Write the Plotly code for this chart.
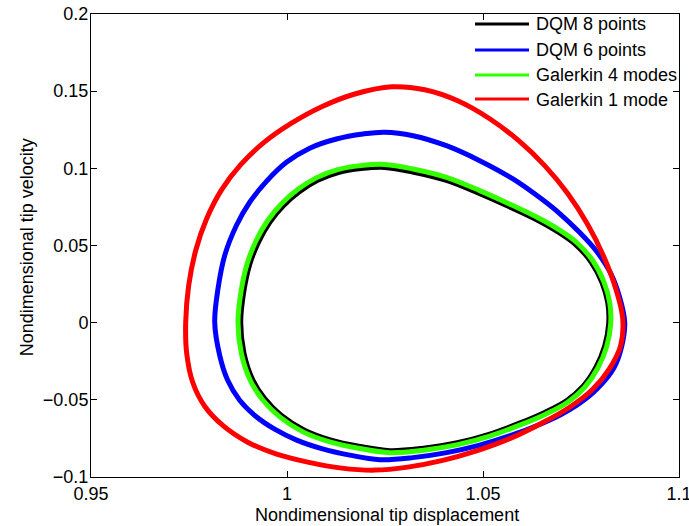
import plotly.graph_objects as go

# ---------------- data ----------------
dqm8_x = [0.98819, 0.98901, 0.99048, 0.99276, 0.99561, 0.99908, 1.00324, 1.00783, 1.01309, 1.01888,
          1.02492, 1.03204, 1.04048, 1.04890, 1.05737, 1.06367, 1.06901, 1.07355, 1.07758, 1.08033,
          1.08184, 1.08207, 1.08105, 1.07878, 1.07554, 1.07128, 1.06574, 1.05916, 1.05153, 1.04342,
          1.03480, 1.02620, 1.01862, 1.01102, 1.00434, 0.99849, 0.99431, 0.99128, 0.98901, 0.98819]
dqm8_v = [0.0002, 0.02070, 0.03771, 0.05239, 0.06507, 0.07581, 0.08499, 0.09224, 0.09728, 0.09981,
          0.10058, 0.09767, 0.09230, 0.08389, 0.07432, 0.06669, 0.05899, 0.05078, 0.03933, 0.02613,
          0.01281, -0.00045, -0.01514, -0.02904, -0.04114, -0.05058, -0.05815, -0.06527, -0.07232, -0.07781,
          -0.08131, -0.08292, -0.08021, -0.07594, -0.06947, -0.05990, -0.04916, -0.03713, -0.01960, 0.0002]

dqm6_x = [0.98156, 0.98240, 0.98411, 0.98709, 0.99048, 0.99482, 0.99985, 1.00579, 1.01260, 1.01939,
          1.02492, 1.03214, 1.04066, 1.04916, 1.05765, 1.06446, 1.06957, 1.07441, 1.07901, 1.08258,
          1.08487, 1.08615, 1.08538, 1.08334, 1.07926, 1.07467, 1.06957, 1.06395, 1.05732, 1.04916,
          1.04074, 1.03207, 1.02365, 1.01599, 1.00885, 1.00247, 0.99686, 0.99202, 0.98793, 0.98487,
          0.98283, 0.98156]
dqm6_v = [0.0002, 0.02199, 0.04353, 0.06294, 0.07801, 0.09172, 0.10388, 0.11307, 0.11902, 0.12225,
          0.12342, 0.12115, 0.11468, 0.10498, 0.09314, 0.08105, 0.07070, 0.05906, 0.04612, 0.03189,
          0.01636, 0.0002, -0.01533, -0.02956, -0.04250, -0.05220, -0.05996, -0.06643, -0.07290, -0.07937,
          -0.08422, -0.08745, -0.08875, -0.08583, -0.08163, -0.07613, -0.06902, -0.06061, -0.05026, -0.03732,
          -0.02115, 0.0002]

gal4_x = [0.98750, 0.98832, 0.98985, 0.99214, 0.99508, 0.99865, 1.00286, 1.00758, 1.01293, 1.01880,
          1.02492, 1.03214, 1.04066, 1.04916, 1.05765, 1.06395, 1.06931, 1.07390, 1.07798, 1.08079,
          1.08232, 1.08258, 1.08156, 1.07926, 1.07594, 1.07161, 1.06599, 1.05936, 1.05171, 1.04355,
          1.03487, 1.02620, 1.01855, 1.01089, 1.00408, 0.99814, 0.99388, 0.99074, 0.98837, 0.98750]
gal4_v = [0.0002, 0.02089, 0.03836, 0.05323, 0.06617, 0.07717, 0.08655, 0.09398, 0.09916, 0.10175,
          0.10252, 0.09961, 0.09418, 0.08558, 0.07587, 0.06811, 0.06035, 0.05194, 0.04030, 0.02671,
          0.01313, -0.00045, -0.01533, -0.02956, -0.04185, -0.05155, -0.05931, -0.06643, -0.07354, -0.07904,
          -0.08260, -0.08422, -0.08150, -0.07723, -0.07076, -0.06106, -0.05026, -0.03797, -0.02005, 0.0002]

gal1_x = [0.97416, 0.97492, 0.97671, 0.97952, 0.98334, 0.98819, 0.99406, 1.00094, 1.00885, 1.01753,
          1.02671, 1.03513, 1.04355, 1.05171, 1.05911, 1.06574, 1.07161, 1.07671, 1.08079, 1.08385,
          1.08564, 1.08513, 1.08232, 1.07798, 1.07212, 1.06497, 1.05681, 1.04814, 1.03946, 1.03079,
          1.02237, 1.01395, 1.00528, 0.99737, 0.98997, 0.98385, 0.97901, 0.97594, 0.97441, 0.97416]
gal1_v = [0.0002, 0.02413, 0.04677, 0.06747, 0.08622, 0.10239, 0.11663, 0.12891, 0.13991, 0.14832,
          0.15285, 0.15091, 0.14379, 0.13215, 0.11792, 0.10175, 0.08364, 0.06358, 0.04289, 0.02219,
          0.00278, -0.01468, -0.02956, -0.04314, -0.05479, -0.06514, -0.07516, -0.08325, -0.08939, -0.09360,
          -0.09554, -0.09424, -0.09036, -0.08519, -0.07743, -0.06708, -0.05414, -0.03862, -0.01986, 0.0002]

series_names = ["DQM 8 points", "DQM 6 points", "Galerkin 4 modes", "Galerkin 1 mode"]
series_colors = ["#000000", "#0000ff", "#33ff00", "#ff0000"]

x_ticks = [0.95, 1.0, 1.05, 1.1]
x_ticktext = ["0.95", "1", "1.05", "1.1"]
y_ticks = [-0.1, -0.05, 0.0, 0.05, 0.1, 0.15, 0.2]
y_ticktext = ["\u22120.1", "\u22120.05", "0", "0.05", "0.1", "0.15", "0.2"]

x_title = "Nondimensional tip displacement"
y_title = "Nondimensional tip velocity"

# ---------------- figure ----------------
FONT = "Liberation Sans, Arial, Helvetica, sans-serif"
FS = 18

fig = go.Figure()
curves = [(dqm8_x, dqm8_v), (dqm6_x, dqm6_v), (gal4_x, gal4_v), (gal1_x, gal1_v)]
for (xs, vs), name, col in zip(curves, series_names, series_colors):
    fig.add_trace(go.Scatter(x=xs, y=vs, mode="lines", name=name,
                             line=dict(color=col, width=5, shape="spline", smoothing=1.0),
                             showlegend=False, hoverinfo="skip"))

L, R, T, B = 91, 10, 14, 49
W, H = 689, 526
pw, ph = W - L - R, H - T - B

def px_to_paper(px, py):
    return (px - L) / pw, (H - B - py) / ph

# MATLAB-style legend drawn in the upper right corner
row_y = [24, 50, 75, 99]
for name, col, ry in zip(series_names, series_colors, row_y):
    x0, yy = px_to_paper(475, ry)
    x1, _ = px_to_paper(529, ry)
    xt, yt = px_to_paper(534, ry + 0.5)
    fig.add_shape(type="line", xref="paper", yref="paper", x0=x0, x1=x1, y0=yy, y1=yy,
                  line=dict(color=col, width=3))
    fig.add_annotation(xref="paper", yref="paper", x=xt, y=yt,
                       text=name, showarrow=False, xanchor="left", yanchor="middle",
                       font=dict(family=FONT, size=FS, color="black"))

# axis titles
ax_x, ax_y = px_to_paper(386.5, 514.5)
fig.add_annotation(xref="paper", yref="paper", x=ax_x, y=ax_y, text=x_title, showarrow=False,
                   xanchor="center", yanchor="middle", font=dict(family=FONT, size=FS, color="black"))
ay_x, ay_y = px_to_paper(27, 247.3)
fig.add_annotation(xref="paper", yref="paper", x=ay_x, y=ay_y, text=y_title, showarrow=False,
                   textangle=-90, xanchor="center", yanchor="middle",
                   font=dict(family=FONT, size=FS, color="black"))

axis_common = dict(showgrid=False, zeroline=False, showline=True, linecolor="black", linewidth=1,
                   mirror="ticks", ticks="inside", ticklen=6, tickwidth=1, tickcolor="black",
                   ticklabeloverflow="allow",
                   tickfont=dict(family=FONT, size=FS, color="black"))
fig.update_xaxes(range=[0.95, 1.1], tickmode="array", tickvals=x_ticks, ticktext=x_ticktext,
                 ticklabelstandoff=0, **axis_common)
fig.update_yaxes(range=[-0.1, 0.2], tickmode="array", tickvals=y_ticks, ticktext=y_ticktext,
                 ticklabelstandoff=-2, **axis_common)

fig.update_layout(width=W, height=H, margin=dict(l=L, r=R, t=T, b=B, autoexpand=False),
                  paper_bgcolor="white", plot_bgcolor="white", showlegend=False,
                  font=dict(family=FONT, size=FS, color="black"))

fig.write_html("out.html")
